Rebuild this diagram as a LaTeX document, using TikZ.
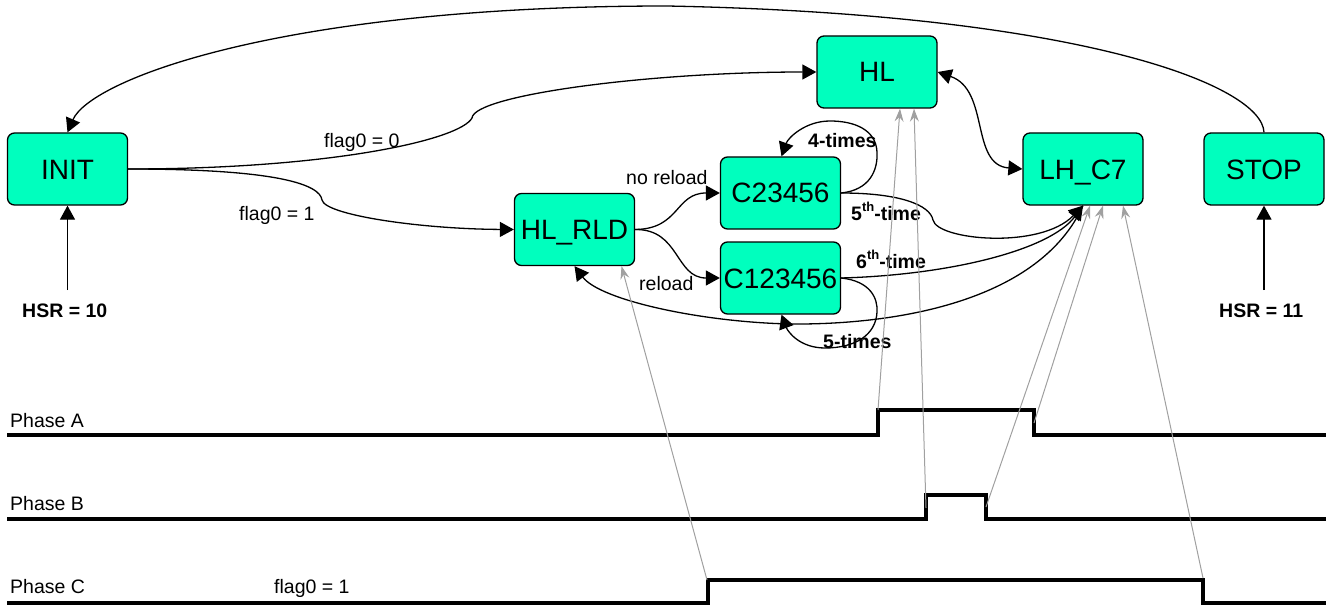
\documentclass[tikz,border=0pt]{standalone}
\usepackage{fontspec}
\setmainfont{Liberation Sans}
\usetikzlibrary{arrows.meta}
\definecolor{nodegreen}{RGB}{0,255,190}
\definecolor{linkgray}{RGB}{160,160,160}
\newcommand\mysup[1]{\raisebox{0.42em}{\fontsize{13}{13}\selectfont #1}}
\begin{document}
\begin{tikzpicture}[x=1pt,y=-1pt,
  state/.style={draw=black,line width=1.3pt,fill=nodegreen,rounded corners=7pt,
    minimum width=120pt,minimum height=72pt,inner sep=0pt,
    font=\fontsize{28}{30}\selectfont,text height=20pt,text depth=0pt},
  lbl/.style={inner sep=0pt,anchor=base west,font=\fontsize{19.5}{22}\selectfont},
  blbl/.style={lbl,font=\fontsize{19.5}{22}\selectfont\bfseries},
  conn/.style={draw=black,line width=1.3pt},
  tip/.style={-{Triangle[length=14pt,width=15pt]}},
  btip/.style={{Triangle[length=14pt,width=15pt]}-{Triangle[length=14pt,width=15pt]}},
  glink/.style={draw=linkgray,line width=1pt,-{Stealth[length=13pt,width=9pt,inset=4.5pt]}},
  wave/.style={draw=black,line width=3.2pt,line join=miter}]
\useasboundingbox (0,0) rectangle (1326,607);

% states
\node[state] (INIT)   at (67.5,169)  {INIT};
\node[state] (HL)     at (877,72)    {HL};
\node[state] (HLRLD)  at (574.5,229.5) {HL\_RLD};
\node[state] (C23)    at (780.5,193) {C23456};
\node[state] (C123)   at (780.5,278) {C123456};
\node[state] (LHC)    at (1083,169)  {LH\_C7};
\node[state] (STOP)   at (1264,169)  {STOP};

% labels
\node[lbl]  (lf0)   at (324,148) {flag0 = 0};
\node[lbl]  (lf1)   at (239,220) {flag0 = 1};
\node[lbl]  (lnr)   at (626,185) {no reload};
\node[lbl]  (lr)    at (639,290) {reload};
\node[blbl] (l4)    at (808,148) {4-times};
\node[blbl] (l5)    at (823,348) {5-times};
\node[blbl] (l5th)  at (851,220) {5\mysup{th}-time};
\node[blbl] (l6th)  at (856,268) {6\mysup{th}-time};
\node[blbl] (hsr10) at (22,317)  {HSR = 10};
\node[blbl] (hsr11) at (1219,317) {HSR = 11};
\node[lbl]  (pA)    at (10,427)  {Phase A};
\node[lbl]  (pB)    at (10,510)  {Phase B};
\node[lbl]  (pC)    at (10,593)  {Phase C};
\node[lbl]  (pCf)   at (274,593) {flag0 = 1};

% HSR arrows
\coordinate (h10) at (67.5,290);
\coordinate (h11) at (1264,290);
\draw[conn,tip] (h10) -- (INIT.south);
\draw[conn,tip] (h11) -- (STOP.south);

% STOP -> INIT (top arc)
\coordinate (topm) at (667,6);
\draw[conn,tip] (STOP.north) .. controls (1262,85) and (1080,14) .. (topm)
  .. controls (280,6) and (90,80) .. (INIT.north);

% INIT -> HL (flag0 = 0)
\coordinate (b0) at (472,118);
\draw[conn,tip] (INIT.east) .. controls (330,169) and (460,140) .. (b0)
  .. controls (474,95) and (650,72) .. (HL.west);

% INIT -> HL_RLD (flag0 = 1)
\coordinate (b1) at (322,200);
\draw[conn,tip] (INIT.east) .. controls (280,169) and (320,185) .. (b1)
  .. controls (325,215) and (420,229) .. (HLRLD.west);

% HL_RLD -> C23456 / C123456
\draw[conn,tip] (HLRLD.east) .. controls (680,229) and (675,193) .. (C23.west);
\draw[conn,tip] (HLRLD.east) .. controls (680,229) and (675,278) .. (C123.west);

% self loops
\coordinate (l4a) at (877,152);
\coordinate (l4b) at (830,121);
\draw[conn,tip] (C23.east) .. controls (870,190) and (878,170) .. (l4a)
  .. controls (876,130) and (855,121) .. (l4b)
  .. controls (805,121) and (788,138) .. ([xshift=1pt]C23.north);
\coordinate (l5a) at (877,312);
\coordinate (l5b) at (825,348);
\draw[conn,tip] (C123.east) .. controls (870,281) and (878,298) .. (l5a)
  .. controls (876,335) and (855,348) .. (l5b)
  .. controls (800,348) and (788,332) .. ([xshift=1pt]C123.south);

% 5th-time, 6th-time
\coordinate (b5) at (933,220);
\draw[conn,tip] (C23.east) .. controls (900,193) and (930,205) .. (b5)
  .. controls (937,240) and (1040,250) .. (LHC.south);
\draw[conn,tip] (C123.east) .. controls (950,275) and (1050,250) .. (LHC.south);

% LH_C7 <-> HL_RLD
\coordinate (bl) at (790,324);
\draw[conn,tip] (LHC.south) .. controls (1040,300) and (900,325) .. (bl)
  .. controls (700,322) and (600,300) .. (HLRLD.south);

% HL <-> LH_C7
\draw[conn,btip] (HL.east) .. controls (990,90) and (970,165) .. (LHC.west);

% waveforms
\draw[wave] (7,435) -- (878,435) -- (878,410) -- (1034,410) -- (1034,435) -- (1326,435);
\draw[wave] (7,519) -- (926,519) -- (926,495) -- (986,495) -- (986,519) -- (1326,519);
\draw[wave] (7,603) -- (708,603) -- (708,580) -- (1203,580) -- (1203,603) -- (1326,603);

% gray links
\coordinate (gAr) at (878,410);
\coordinate (gBr) at (926,508);
\coordinate (gBf) at (986,507);
\coordinate (gAf) at (1034,423);
\coordinate (gCr) at (707,580);
\coordinate (gCf) at (1203,578);
\draw[glink] (gAr) -- ([xshift=23pt]HL.south);
\draw[glink] (gBr) -- ([xshift=37pt]HL.south);
\draw[glink] (gBf) -- ([xshift=7pt]LHC.south);
\draw[glink] (gAf) -- ([xshift=20pt]LHC.south);
\draw[glink] (gCf) -- ([xshift=40pt]LHC.south);
\draw[glink] (gCr) -- ([xshift=47pt]HLRLD.south);
\end{tikzpicture}
\end{document}
